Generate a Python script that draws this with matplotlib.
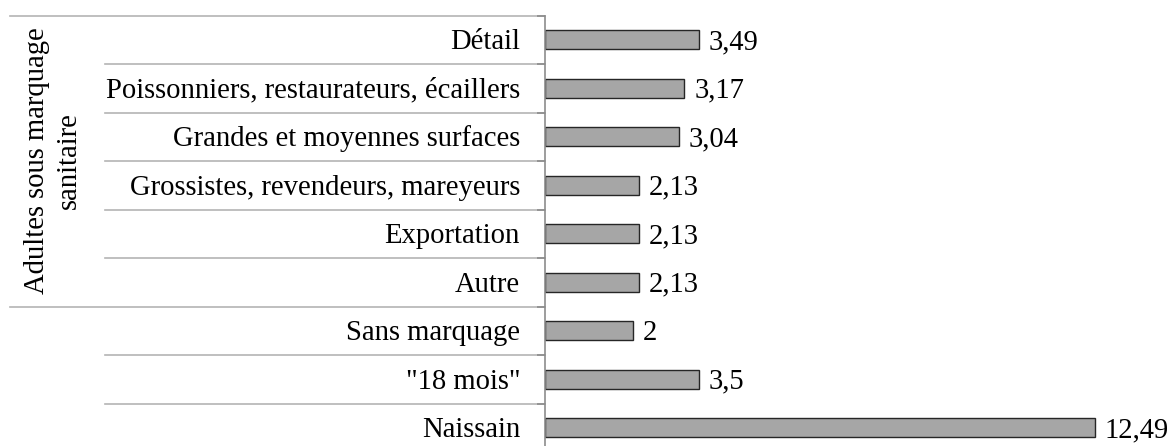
import matplotlib.pyplot as plt
from matplotlib.transforms import blended_transform_factory, offset_copy

categories = ["Détail", "Poissonniers, restaurateurs, écaillers",
              "Grandes et moyennes surfaces", "Grossistes, revendeurs, mareyeurs",
              "Exportation", "Autre", "Sans marquage", "\"18 mois\"", "Naissain"]
values = [3.49, 3.17, 3.04, 2.13, 2.13, 2.13, 2.0, 3.5, 12.49]
group_label = "Adultes sous marquage\nsanitaire"
group_size = 6

plt.rcParams['font.family'] = ['Liberation Serif', 'DejaVu Serif']
FS = 20.6
W, H = 1172, 446
fig = plt.figure(figsize=(W / 100, H / 100), dpi=100)
ax = fig.add_axes([545 / W, -6 / H, 616 / W, 436.5 / H])

y = list(range(len(categories)))
ax.barh(y, values, height=0.39, color='#a6a6a6', edgecolor='#262626', linewidth=1.0)
for yi, v in zip(y, values):
    ax.annotate(f"{v:g}".replace('.', ','), (v, yi), xytext=(7, -6.9),
                textcoords='offset points', va='baseline', ha='left', fontsize=FS)

ax.set_xlim(0, 14)
ax.set_ylim(len(categories) - 0.5, -0.5)
ax.set_xticks([])
ax.set_yticks([b - 0.5 for b in range(len(categories) + 1)])
ax.set_yticklabels([])
ax.tick_params(axis='y', length=6, width=1.2, color='#8c8c8c')
for s in ['top', 'right', 'bottom']:
    ax.spines[s].set_visible(False)
ax.spines['left'].set_color('#8c8c8c')
ax.spines['left'].set_linewidth(1.2)

# category labels and separators on the left of the axis
tr = blended_transform_factory(ax.transAxes, ax.transData)
tr_lbl = offset_copy(tr, fig=fig, x=0, y=-6.7, units='points')
px = 1 / 616
for yi, name in zip(y, categories):
    ax.text(-25 * px, yi, name, transform=tr_lbl, ha='right', va='baseline', fontsize=FS)

for b in range(len(categories) + 1):
    yb = b - 0.5
    x0 = -535 * px if b in (0, group_size, len(categories)) else -440 * px
    ax.plot([x0, 0], [yb, yb], transform=tr, color='#b4b4b4', lw=1.2, clip_on=False,
            zorder=0)

ax.text(-492 * px, (group_size - 1) / 2, group_label, transform=tr, rotation=90,
        ha='center', va='center', fontsize=FS, multialignment='center',
        linespacing=1.33)

fig.savefig('out.png', dpi=100)
